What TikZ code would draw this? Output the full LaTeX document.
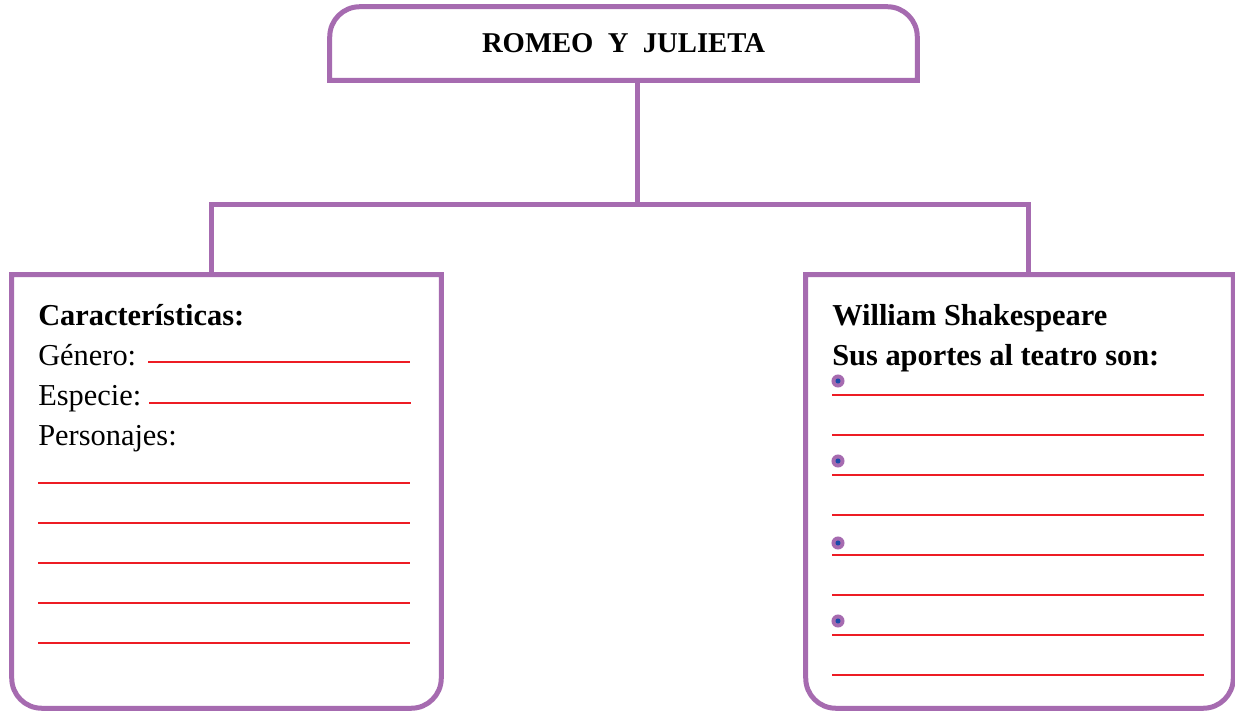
\documentclass[tikz,border=0pt]{standalone}
\usepackage{fontspec}
\setmainfont{Liberation Serif}
\usetikzlibrary{positioning}
\definecolor{morado}{RGB}{166,107,176}
\definecolor{rojo}{RGB}{237,28,36}
\definecolor{azul}{RGB}{25,75,170}

\begin{document}
\begin{tikzpicture}[x=0.75pt,y=0.75pt,
    marco/.style={draw=morado,line width=3.75pt},
    renglon/.style={draw=rojo,line width=2.2pt},
    caja/.style={inner sep=0pt,minimum height=#1},
    texto/.style={anchor=base west,inner sep=0pt,font=\fontsize{22.8}{27}\selectfont}]
  \useasboundingbox (0,0) rectangle (1235,712);

  \node[caja=54.75pt,minimum width=440.25pt,font=\fontsize{21.5}{25}\selectfont\bfseries] (titulo) at (623.5,668.5) {ROMEO\ \ Y\ \ JULIETA};
  \node[caja=324.75pt,minimum width=321.75pt] (izq) at (226.5,220.5) {};
  \node[caja=324.75pt,minimum width=320.25pt] (der) at (1019.5,220.5) {};

  \draw[marco] (titulo.south west) -- ([yshift=-22.5pt]titulo.north west) arc[start angle=180,end angle=90,radius=22.5pt]
    -- ([xshift=-22.5pt]titulo.north east) arc[start angle=90,end angle=0,radius=22.5pt] -- (titulo.south east) -- cycle;
  \foreach \c in {izq,der}
    \draw[marco] (\c.north west) -- ([yshift=22.5pt]\c.south west) arc[start angle=180,end angle=270,radius=22.5pt]
      -- ([xshift=-22.5pt]\c.south east) arc[start angle=270,end angle=360,radius=22.5pt] -- (\c.north east) -- cycle;

  \coordinate (cruce) at (637,507);
  \draw[marco] (titulo.south -| cruce) -- (cruce);
  \draw[marco] ([xshift=-11.6pt]izq.north) |- (cruce) -| ([xshift=6.4pt]der.north);

  \node[texto] (caract) at (38,386) {\bfseries Características:};
  \node[texto] (genero) at (38,346) {Género:};
  \node[texto] (especie) at (38,306) {Especie:};
  \node[texto] (personajes) at (38,266) {Personajes:};
  \draw[renglon] (148,350) -- (410,350);
  \draw[renglon] (149,309) -- (411,309);
  \foreach \y in {229,189,149,109,69}
    \draw[renglon] (38,\y) -- (410,\y);

  \node[texto] (autor) at (832,386) {\bfseries William Shakespeare};
  \node[texto] (aportes) at (832,346) {\bfseries Sus aportes al teatro son:};
  \foreach \y in {317,277,237,197,157,117,77,37}
    \draw[renglon] (832,\y) -- (1204,\y);
  \foreach \y in {331,251,169,91} {
    \fill[morado] (838,\y) circle (4.9pt);
    \fill[azul] (838,\y) circle (1.9pt);
  }
\end{tikzpicture}
\end{document}
